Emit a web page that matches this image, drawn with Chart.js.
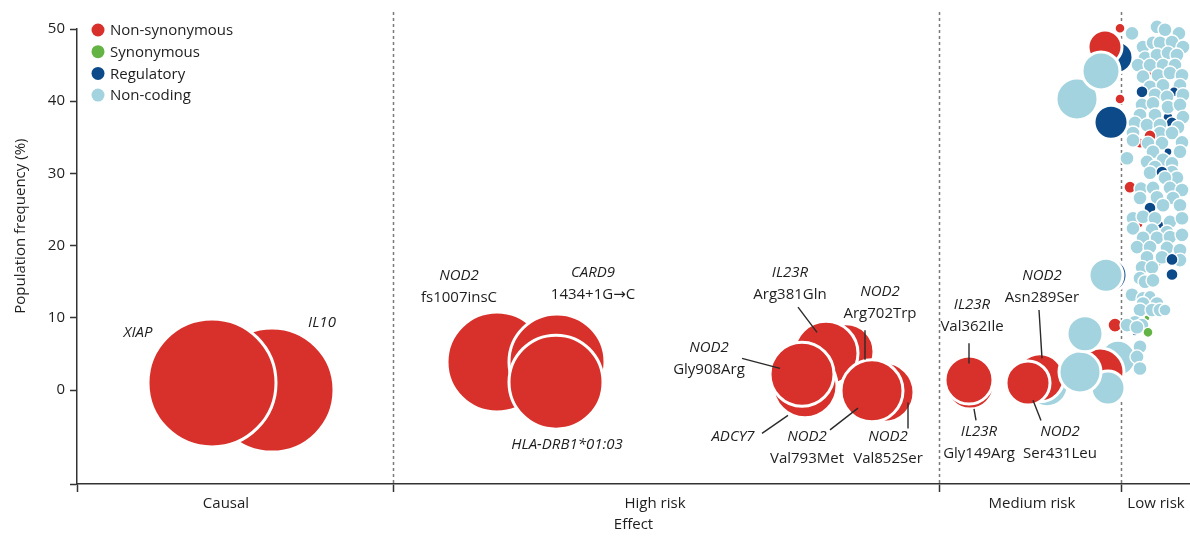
<!DOCTYPE html>
<html>
<head>
<meta charset="utf-8">
<script src="https://cdn.jsdelivr.net/npm/chart.js@4.4.1/dist/chart.umd.min.js"></script>
<style>
  html, body { margin: 0; padding: 0; background: #ffffff; }
  canvas { display: block; }
</style>
</head>
<body>
<canvas id="chart" width="1190" height="538"></canvas>
<script>
const FONT = '"Open Sans", "DejaVu Sans", sans-serif';

// Variant classes shown in the legend, with their fill colours
const kinds = ['Non-synonymous', 'Synonymous', 'Regulatory', 'Non-coding'];
const kindColors = ['#d8302a', '#64b345', '#0c4a8a', '#a3d3de'];

// Effect classes along the horizontal axis
const effectClasses = ['Causal', 'High risk', 'Medium risk', 'Low risk'];
const classBounds = [0, 31.6, 86.2, 104.4];
const classLabelAt = [14.9, 57.8, 95.5, 107.9];
const effectMax = 111.3;

// Frequency axis
const freqTicks = [0, 10, 20, 30, 40, 50];
const freqFloor = -13;

// Variants: [effect, population frequency (%), bubble radius, kind index]
const causal = [
  [19.5, 0.0, 62, 0],   // IL10
  [13.5, 1.0, 64, 0],   // XIAP
];

const highRisk = [
  [42.0, 3.9, 50, 0],   // NOD2 fs1007insC
  [48.0, 3.9, 48, 0],   // CARD9 1434+1G→C
  [47.9, 1.1, 47, 0],   // HLA-DRB1*01:03
  [80.7, -0.3, 30, 0],  // NOD2 Val852Ser
  [76.9, 5.3, 28, 0],   // NOD2 Arg702Trp
  [74.9, 5.1, 32, 0],   // IL23R Arg381Gln
  [79.5, -0.1, 31, 0],  // NOD2 Val793Met
  [72.8, 0.6, 32, 0],   // ADCY7
  [72.5, 2.2, 32, 0],   // NOD2 Gly908Arg
];

const mediumRisk = [
  [89.3, 0.7, 24, 0],   // IL23R Gly149Arg
  [89.2, 1.4, 24, 0],   // IL23R Val362Ile
  [97.0, 0.6, 21, 3],
  [96.3, 1.7, 24, 0],   // NOD2 Asn289Ser
  [95.1, 1.0, 22, 0],   // NOD2 Ser431Leu
  [104.1, 4.4, 18, 3],
  [102.3, 2.5, 24, 0],
  [103.1, 0.3, 17, 3],
  [100.3, 2.5, 21, 3],
  [100.8, 7.8, 18, 3],
  [104.0, 46.1, 16, 2],
  [102.8, 47.5, 17, 0],
  [100.0, 40.3, 21, 3],
  [102.4, 44.2, 19, 3],
  [103.4, 37.1, 17, 2],
  [103.3, 15.9, 17, 2],
  [102.9, 15.9, 17, 3],
];

const lowRisk = [
  [104.3, 50.1, 5, 0],
  [104.3, 40.3, 5, 0],
  [103.8, 9.0, 7, 0],
  [108.5, 46.0, 5, 2],
  [107.5, 44.0, 4, 0],
  [106.2, 23.0, 4, 0],
  [108.3, 22.9, 4, 2],
  [108.1, 17.7, 4, 1],
  [107.4, 10.8, 3, 0],
  [107.0, 10.0, 3, 1],
  [105.8, 7.9, 3, 2],
  [106.3, 34.2, 5, 0],
  [109.1, 37.8, 5, 2],
  [105.5, 49.4, 7, 3],
  [108.0, 50.3, 7, 3],
  [108.8, 49.9, 7, 3],
  [110.2, 49.4, 7, 3],
  [106.6, 47.5, 7, 3],
  [107.6, 48.1, 7, 3],
  [108.3, 48.1, 7, 3],
  [109.5, 48.2, 7, 3],
  [110.6, 47.5, 7, 3],
  [106.8, 46.0, 7, 3],
  [108.0, 46.4, 7, 3],
  [109.1, 46.7, 7, 3],
  [110.0, 46.4, 7, 3],
  [106.1, 45.0, 7, 3],
  [107.3, 45.0, 7, 3],
  [108.6, 45.0, 7, 3],
  [109.8, 45.0, 7, 3],
  [106.6, 43.4, 7, 3],
  [108.1, 43.6, 7, 3],
  [109.3, 43.9, 7, 3],
  [110.5, 43.6, 7, 3],
  [107.3, 42.0, 7, 3],
  [108.6, 42.2, 7, 3],
  [110.3, 42.2, 7, 3],
  [106.5, 41.3, 6, 2],
  [109.7, 41.3, 5, 2],
  [107.8, 40.9, 7, 3],
  [109.0, 40.6, 7, 3],
  [110.6, 40.9, 7, 3],
  [106.5, 39.5, 7, 3],
  [107.6, 39.7, 7, 3],
  [109.1, 39.2, 7, 3],
  [110.3, 39.5, 7, 3],
  [106.3, 38.1, 7, 3],
  [107.8, 38.1, 7, 3],
  [110.6, 37.8, 7, 3],
  [109.5, 37.0, 6, 2],
  [105.8, 37.0, 7, 3],
  [107.0, 36.7, 7, 3],
  [108.3, 36.7, 7, 3],
  [110.1, 36.4, 7, 3],
  [105.6, 35.6, 7, 3],
  [108.3, 35.6, 7, 3],
  [109.5, 35.6, 7, 3],
  [107.3, 35.2, 6, 0],
  [105.6, 34.6, 7, 3],
  [107.1, 34.2, 7, 3],
  [108.5, 34.2, 7, 3],
  [110.5, 34.3, 7, 3],
  [107.6, 33.0, 7, 3],
  [109.1, 33.0, 4, 2],
  [110.3, 33.0, 7, 3],
  [105.0, 32.1, 7, 3],
  [108.6, 31.9, 7, 3],
  [107.0, 31.6, 7, 3],
  [109.5, 31.4, 7, 3],
  [107.8, 30.9, 7, 3],
  [107.3, 30.1, 7, 3],
  [109.5, 30.2, 7, 3],
  [108.5, 30.2, 6, 2],
  [110.0, 29.4, 7, 3],
  [108.8, 29.4, 7, 3],
  [105.3, 28.1, 6, 0],
  [106.4, 27.9, 7, 3],
  [107.6, 28.0, 7, 3],
  [109.3, 28.0, 7, 3],
  [110.5, 27.7, 7, 3],
  [106.3, 26.6, 7, 3],
  [108.0, 26.7, 7, 3],
  [109.6, 26.6, 7, 3],
  [108.6, 25.6, 7, 3],
  [110.3, 25.6, 7, 3],
  [107.3, 25.2, 6, 2],
  [105.6, 23.8, 7, 3],
  [106.6, 24.0, 7, 3],
  [107.8, 23.8, 7, 3],
  [109.3, 23.3, 7, 3],
  [110.5, 23.8, 7, 3],
  [105.6, 22.4, 7, 3],
  [107.5, 22.2, 7, 3],
  [109.0, 21.9, 7, 3],
  [106.6, 21.1, 7, 3],
  [108.0, 21.1, 7, 3],
  [109.3, 21.2, 7, 3],
  [110.5, 21.5, 7, 3],
  [106.0, 19.8, 7, 3],
  [107.3, 19.8, 7, 3],
  [109.0, 19.7, 7, 3],
  [110.3, 19.4, 7, 3],
  [107.0, 18.4, 7, 3],
  [108.5, 18.4, 7, 3],
  [110.3, 18.0, 7, 3],
  [109.5, 18.1, 6, 2],
  [106.5, 17.0, 7, 3],
  [107.5, 17.0, 7, 3],
  [109.5, 16.0, 6, 2],
  [106.3, 15.5, 7, 3],
  [106.8, 15.0, 7, 3],
  [107.6, 15.2, 7, 3],
  [105.5, 13.2, 7, 3],
  [106.6, 12.7, 7, 3],
  [107.3, 13.0, 6, 3],
  [106.6, 12.0, 7, 3],
  [108.0, 12.0, 7, 3],
  [106.3, 11.1, 7, 3],
  [107.5, 11.1, 7, 3],
  [108.3, 11.1, 7, 3],
  [108.8, 11.1, 6, 3],
  [105.8, 9.4, 7, 3],
  [105.0, 9.0, 7, 3],
  [106.5, 9.0, 7, 3],
  [106.0, 8.7, 7, 3],
  [107.1, 8.0, 5, 1],
  [106.3, 6.0, 7, 3],
  [106.0, 4.6, 7, 3],
  [106.3, 3.0, 7, 3],
];

// Gene / variant captions: centre (effect, frequency) of the first line,
// italic flag per line, and an optional leader line into the bubble
const geneLabels = [
  { x: 6.1,  y: 7.9,  lines: [['XIAP', true]] },
  { x: 24.5, y: 9.3,  lines: [['IL10', true]] },
  { x: 38.2, y: 15.8, lines: [['NOD2', true], ['fs1007insC', false]] },
  { x: 51.6, y: 16.2, lines: [['CARD9', true], ['1434+1G\u2192C', false]] },
  { x: 49.0, y: -7.6, lines: [['HLA-DRB1*01:03', true]] },
  { x: 71.3, y: 16.3, lines: [['IL23R', true], ['Arg381Gln', false]], leader: [[72.1, 11.5], [74.0, 8.0]] },
  { x: 80.3, y: 13.6, lines: [['NOD2', true], ['Arg702Trp', false]], leader: [[78.8, 8.3], [78.8, 4.2]] },
  { x: 63.2, y: 5.8,  lines: [['NOD2', true], ['Gly908Arg', false]], leader: [[66.5, 4.4], [70.3, 3.0]] },
  { x: 65.6, y: -6.5, lines: [['ADCY7', true]], leader: [[68.5, -6.0], [71.1, -3.5]] },
  { x: 73.0, y: -6.5, lines: [['NOD2', true], ['Val793Met', false]], leader: [[75.3, -5.5], [78.1, -2.5]] },
  { x: 81.1, y: -6.5, lines: [['NOD2', true], ['Val852Ser', false]], leader: [[83.1, -1.7], [83.1, -5.3]] },
  { x: 89.5, y: 11.8, lines: [['IL23R', true], ['Val362Ile', false]], leader: [[89.2, 6.5], [89.2, 3.7]] },
  { x: 90.2, y: -5.8, lines: [['IL23R', true], ['Gly149Arg', false]], leader: [[89.7, -2.6], [89.9, -4.2]] },
  { x: 96.5, y: 15.8, lines: [['NOD2', true], ['Asn289Ser', false]], leader: [[96.2, 11.1], [96.5, 4.4]] },
  { x: 98.3, y: -5.8, lines: [['NOD2', true], ['Ser431Leu', false]], leader: [[95.6, -1.4], [96.4, -4.2]] },
];

const variants = [...causal, ...highRisk, ...mediumRisk, ...lowRisk];

// Dashed separators between effect classes, behind the bubbles
const separators = {
  id: 'separators',
  beforeDatasetsDraw(chart) {
    const { ctx, chartArea, scales: { x } } = chart;
    ctx.save();
    ctx.strokeStyle = '#7a7a7a';
    ctx.lineWidth = 1.5;
    ctx.setLineDash([3, 3]);
    classBounds.slice(1).forEach(v => {
      const px = Math.round(x.getPixelForValue(v)) + 0.5;
      ctx.beginPath();
      ctx.moveTo(px, chartArea.top - 17);
      ctx.lineTo(px, chartArea.bottom);
      ctx.stroke();
    });
    ctx.restore();
  }
};

// Captions and leader lines
const captions = {
  id: 'captions',
  afterDatasetsDraw(chart) {
    const { ctx, scales: { x, y } } = chart;
    ctx.save();
    ctx.strokeStyle = '#2a2a2a';
    ctx.lineWidth = 1.4;
    geneLabels.forEach(l => {
      if (l.leader) {
        ctx.beginPath();
        ctx.moveTo(x.getPixelForValue(l.leader[0][0]), y.getPixelForValue(l.leader[0][1]));
        ctx.lineTo(x.getPixelForValue(l.leader[1][0]), y.getPixelForValue(l.leader[1][1]));
        ctx.stroke();
      }
    });
    ctx.fillStyle = '#1e1e1e';
    ctx.textAlign = 'center';
    ctx.textBaseline = 'middle';
    geneLabels.forEach(l => {
      const cx = x.getPixelForValue(l.x);
      const cy = y.getPixelForValue(l.y);
      l.lines.forEach(([text, italic], i) => {
        ctx.font = `${italic ? 'italic ' : ''}15px ${FONT}`;
        ctx.fillText(text, cx, cy + i * 22);
      });
    });
    ctx.restore();
  }
};

// Legend of variant kinds in the upper-left corner of the plot
const kindLegend = {
  id: 'kindLegend',
  afterDraw(chart) {
    const { ctx, chartArea } = chart;
    ctx.save();
    ctx.font = `15px ${FONT}`;
    ctx.textAlign = 'left';
    ctx.textBaseline = 'middle';
    kinds.forEach((k, i) => {
      const cy = chartArea.top + 1 + i * 21.7;
      ctx.fillStyle = kindColors[i];
      ctx.beginPath();
      ctx.arc(chartArea.left + 21, cy, 6.5, 0, Math.PI * 2);
      ctx.fill();
      ctx.fillStyle = '#1e1e1e';
      ctx.fillText(k, chartArea.left + 33, cy + 1);
    });
    ctx.restore();
  }
};

// Vertical axis title
const freqTitle = {
  id: 'freqTitle',
  afterDraw(chart) {
    const { ctx, scales: { y } } = chart;
    ctx.save();
    ctx.translate(21, y.getPixelForValue(22.7));
    ctx.rotate(-Math.PI / 2);
    ctx.font = `15px ${FONT}`;
    ctx.fillStyle = '#1e1e1e';
    ctx.textAlign = 'center';
    ctx.textBaseline = 'middle';
    ctx.fillText('Population frequency (%)', 0, 0);
    ctx.restore();
  }
};

new Chart(document.getElementById('chart'), {
  type: 'bubble',
  data: {
    datasets: [{
      data: variants.map(v => ({ x: v[0], y: v[1], r: v[2] })),
      backgroundColor: variants.map(v => kindColors[v[3]]),
      borderColor: '#ffffff',
      borderWidth: variants.map(v => (v[2] >= 15 ? 3 : 1.4)),
      clip: false,
    }]
  },
  options: {
    responsive: false,
    animation: false,
    events: [],
    layout: { autoPadding: false, padding: { top: 29, right: 0, bottom: 0, left: 0 } },
    plugins: {
      legend: { display: false },
      tooltip: { enabled: false },
    },
    scales: {
      x: {
        type: 'linear',
        min: 0,
        max: effectMax,
        afterFit: s => { s.height = 54; },
        afterBuildTicks: s => {
          s.ticks = [...classBounds, ...classLabelAt].sort((a, b) => a - b).map(v => ({ value: v }));
        },
        ticks: {
          autoSkip: false,
          maxRotation: 0,
          padding: 3,
          color: '#1e1e1e',
          font: { family: FONT, size: 15 },
          callback: v => {
            const i = classLabelAt.indexOf(v);
            return i >= 0 ? effectClasses[i] : '';
          }
        },
        grid: {
          drawOnChartArea: false,
          tickLength: 8,
          tickWidth: 1.5,
          color: '#333333',
          tickColor: c => (c.tick && classBounds.includes(c.tick.value) ? '#333333' : 'rgba(0,0,0,0)'),
        },
        border: { color: '#333333', width: 1.5 },
        title: {
          display: true,
          text: 'Effect',
          color: '#1e1e1e',
          font: { family: FONT, size: 15 },
          padding: { top: 0, bottom: 4 },
        },
      },
      y: {
        type: 'linear',
        min: freqFloor,
        max: 50,
        afterFit: s => { s.width = 77; },
        afterBuildTicks: s => {
          s.ticks = [freqFloor, ...freqTicks].map(v => ({ value: v }));
        },
        ticks: {
          padding: 5,
          color: '#1e1e1e',
          font: { family: FONT, size: 15 },
          callback: v => (v < 0 ? '' : String(v)),
        },
        grid: {
          drawOnChartArea: false,
          tickLength: 7,
          tickWidth: 1.5,
          color: '#333333',
          tickColor: '#333333',
        },
        border: { color: '#333333', width: 1.5 },
      },
    },
  },
  plugins: [separators, captions, kindLegend, freqTitle],
});
</script>
</body>
</html>
